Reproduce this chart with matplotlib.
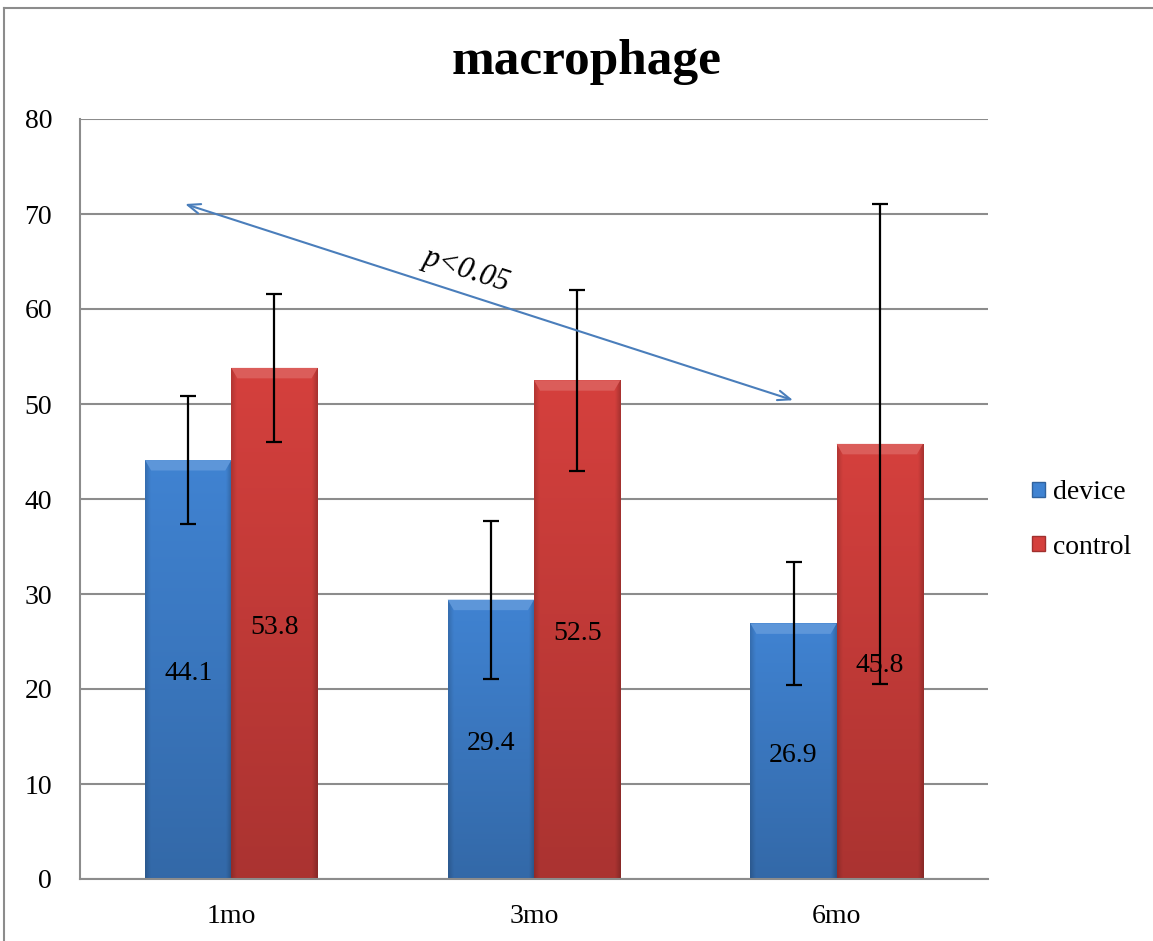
import numpy as np
import matplotlib
matplotlib.use("Agg")
import matplotlib.pyplot as plt
from matplotlib.lines import Line2D
from matplotlib.patches import Rectangle, Patch, Polygon
from matplotlib.colors import to_rgb

categories = ["1mo", "3mo", "6mo"]
device = [44.1, 29.4, 26.9]
control = [53.8, 52.5, 45.8]
device_err = [6.7, 8.3, 6.45]
control_err = [7.75, 9.5, 25.3]
title = "macrophage"
series_names = ["device", "control"]
yticks = [0, 10, 20, 30, 40, 50, 60, 70, 80]

plt.rcParams['font.family'] = ['Liberation Serif', 'DejaVu Serif']

W, H = 1153, 941
fig = plt.figure(figsize=(W / 100, H / 100), dpi=100)
ax = fig.add_axes([80 / W, 1 - 879 / H, (988 - 80) / W, (879 - 119) / H])

x = np.arange(len(categories))
bw = 0.285

blue_main = "#4083d2"
red_main = "#d5403d"


def shade(c, f):
    r = np.array(to_rgb(c))
    if f >= 1:
        return tuple(r + (1 - r) * (f - 1))
    return tuple(r * f)


def gradient_bar(ax, xc, h, w, color):
    rect = Rectangle((xc - w / 2, 0), w, h, facecolor="none", edgecolor="none")
    ax.add_patch(rect)
    ny, nx = 200, 60
    yy = np.linspace(0, 1, ny)[:, None]
    xx = np.linspace(0, 1, nx)[None, :]
    base = np.array(to_rgb(color))
    vf = 0.80 + 0.20 * yy
    edge_l = xx
    edge_r = 1 - xx
    hf = np.ones_like(xx)
    hf = np.where(edge_l < 0.06, 0.85 + 0.15 * edge_l / 0.06, hf)
    hf = np.where(edge_r < 0.06, 0.80 + 0.20 * edge_r / 0.06, hf)
    f = vf * hf
    img = np.clip(base[None, None, :] * f[..., None], 0, 1)
    im = ax.imshow(img, extent=(xc - w / 2, xc + w / 2, 0, h), origin="lower",
                   aspect="auto", zorder=2, interpolation="bilinear")
    im.set_clip_path(rect)
    bev = 1.1
    inset = 0.02
    x0, x1 = xc - w / 2, xc + w / 2
    ax.add_patch(Polygon([(x0, h), (x1, h), (x1 - inset, h - bev), (x0 + inset, h - bev)],
                         closed=True, facecolor=shade(color, 1.15), edgecolor="none",
                         zorder=3))
    return rect


for i in range(len(categories)):
    gradient_bar(ax, x[i] - bw / 2, device[i], bw, blue_main)
    gradient_bar(ax, x[i] + bw / 2, control[i], bw, red_main)

ax.errorbar(x - bw / 2, device, yerr=device_err, fmt="none", ecolor="black",
            elinewidth=1.6, capsize=6, capthick=1.6, zorder=5)
ax.errorbar(x + bw / 2, control, yerr=control_err, fmt="none", ecolor="black",
            elinewidth=1.6, capsize=6, capthick=1.6, zorder=5)

FS = 20
for i in range(len(categories)):
    ax.text(x[i] - bw / 2, device[i] / 2 - 0.4, f"{device[i]:.1f}", ha="center",
            va="center", fontsize=FS, zorder=6)
    ax.text(x[i] + bw / 2, control[i] / 2 - 0.4, f"{control[i]:.1f}", ha="center",
            va="center", fontsize=FS, zorder=6)

ax.set_xlim(-0.5, 2.5)
ax.set_ylim(0, 80)
ax.set_yticks(yticks)
ax.set_xticks(x)
ax.set_xticklabels(categories)
ax.tick_params(axis="both", length=0, labelsize=FS)
ax.tick_params(axis="y", pad=20)
ax.tick_params(axis="x", pad=18)
ax.yaxis.grid(True, color="#8c8c8c", linewidth=1.5, zorder=0)
ax.set_axisbelow(True)
for s in ["top", "right"]:
    ax.spines[s].set_visible(False)
for s in ["left", "bottom"]:
    ax.spines[s].set_color("#8c8c8c")
    ax.spines[s].set_linewidth(1.5)

# significance arrow
ax.annotate("", xy=(-0.153, 71.05), xytext=(1.856, 50.4),
            arrowprops=dict(arrowstyle="<->,head_length=0.9,head_width=0.35",
                            color="#4a7ebb", lw=1.5, shrinkA=0, shrinkB=0), zorder=6)
ax.text(0.779, 64.1, "p<0.05", rotation=-18, ha="center", va="center",
        fontsize=22, style="italic", zorder=6)

fig.text(587 / W, 1 - 62 / H, title, ha="center", va="center", fontsize=37,
         fontweight="bold")

handles = [Patch(facecolor=blue_main, edgecolor=shade(blue_main, 0.75)),
           Patch(facecolor=red_main, edgecolor=shade(red_main, 0.75))]
fig.legend(handles, series_names, loc="center left",
           bbox_to_anchor=(1032 / W, 1 - 520 / H), frameon=False, fontsize=FS,
           handlelength=0.45, handleheight=0.45, handletextpad=0.3, labelspacing=1.05,
           borderpad=0, borderaxespad=0)

# outer border (top and left)
fig.add_artist(Line2D([3.5 / W, 1.0], [1 - 8 / H, 1 - 8 / H], color="#8c8c8c", lw=1.5,
                      transform=fig.transFigure))
fig.add_artist(Line2D([3.5 / W, 3.5 / W], [0, 1 - 8 / H], color="#8c8c8c", lw=1.5,
                      transform=fig.transFigure))

fig.savefig("out.png", dpi=100)
